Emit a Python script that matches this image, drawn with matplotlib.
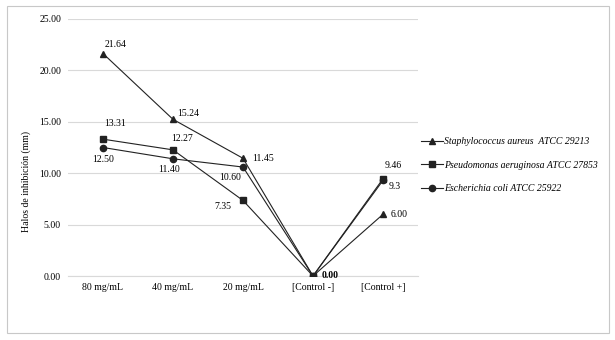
import matplotlib.pyplot as plt
from matplotlib.patches import Rectangle

plt.rcParams['font.family'] = ['Liberation Serif', 'DejaVu Serif']

categories = ['80 mg/mL', '40 mg/mL', '20 mg/mL', '[Control -]', '[Control +]']
s_aureus = [21.64, 15.24, 11.45, 0.00, 6.00]
p_aeruginosa = [13.31, 12.27, 7.35, 0.00, 9.46]
e_coli = [12.50, 11.40, 10.60, 0.00, 9.3]
s_aureus_lbl = ['21.64', '15.24', '11.45', '0.00', '6.00']
p_aeruginosa_lbl = ['13.31', '12.27', '7.35', '0.00', '9.46']
e_coli_lbl = ['12.50', '11.40', '10.60', '0.00', '9.3']
names = ['Staphylococcus aureus  ATCC 29213',
         'Pseudomonas aeruginosa ATCC 27853',
         'Escherichia coli ATCC 25922']

fig = plt.figure(figsize=(6.15, 3.4), dpi=100)
ax = fig.add_axes([68 / 615, 1 - 276 / 340, 350 / 615, 257 / 340])
fig.patches.append(Rectangle((7 / 615, 7 / 340), 602 / 615, 327 / 340, transform=fig.transFigure,
                             fill=False, edgecolor='#c8c8c8', lw=0.8))

x = range(len(categories))
ax.plot(x, s_aureus, color='#222222', lw=0.8, marker='^', ms=4.5, label=names[0], zorder=3)
ax.plot(x, p_aeruginosa, color='#222222', lw=0.8, marker='s', ms=4.5, label=names[1], zorder=3)
ax.plot(x, e_coli, color='#222222', lw=0.8, marker='o', ms=4.5, label=names[2], zorder=3)

fs = 7
# label offsets in pixels (label centre relative to the point)
s_off = [(13, 9), (15, 6), (20, 0), None, (16, 0)]
p_off = [(12, 16), (9, 11), (-20, -6), None, (10, 13)]
e_off = [(0, -12), (-4, -11), (-13, -10), None, (12, -6)]
for vals, lbls, offs in [(s_aureus, s_aureus_lbl, s_off),
                         (p_aeruginosa, p_aeruginosa_lbl, p_off),
                         (e_coli, e_coli_lbl, e_off)]:
    for i, (v, t, o) in enumerate(zip(vals, lbls, offs)):
        if o is None:
            continue
        ax.annotate(t, (i, v), xytext=o, textcoords='offset pixels',
                    ha='center', va='center', fontsize=fs)
ax.annotate(s_aureus_lbl[3], (3, s_aureus[3]), xytext=(17, 0), textcoords='offset pixels',
            ha='center', va='center', fontsize=fs, fontweight='bold')

ax.set_xlim(-0.5, 4.5)
ax.set_ylim(0, 25)
yt = [0, 5, 10, 15, 20, 25]
ax.set_yticks(yt)
ax.set_yticklabels(['%.2f' % t for t in yt])
ax.set_xticks(list(x))
ax.set_xticklabels(categories)
ax.tick_params(length=0, labelsize=fs)
ax.tick_params(axis='x', pad=5)
ax.tick_params(axis='y', pad=5)
ax.grid(axis='y', color='#d9d9d9', lw=0.8)
ax.set_axisbelow(True)
for s in ['top', 'right', 'left']:
    ax.spines[s].set_visible(False)
ax.spines['bottom'].set_color('#d9d9d9')
ax.set_ylabel('Halos de inhibición (mm)', fontsize=fs)
ax.yaxis.set_label_coords(-0.105, 0.366)

fig.legend(loc='center left', bbox_to_anchor=(421 / 615, 1 - 165 / 340), frameon=False,
           labelspacing=1.5, handlelength=2.3, handletextpad=0.1,
           borderpad=0, borderaxespad=0,
           prop={'style': 'italic', 'size': fs})

fig.savefig('out.png', dpi=100)
